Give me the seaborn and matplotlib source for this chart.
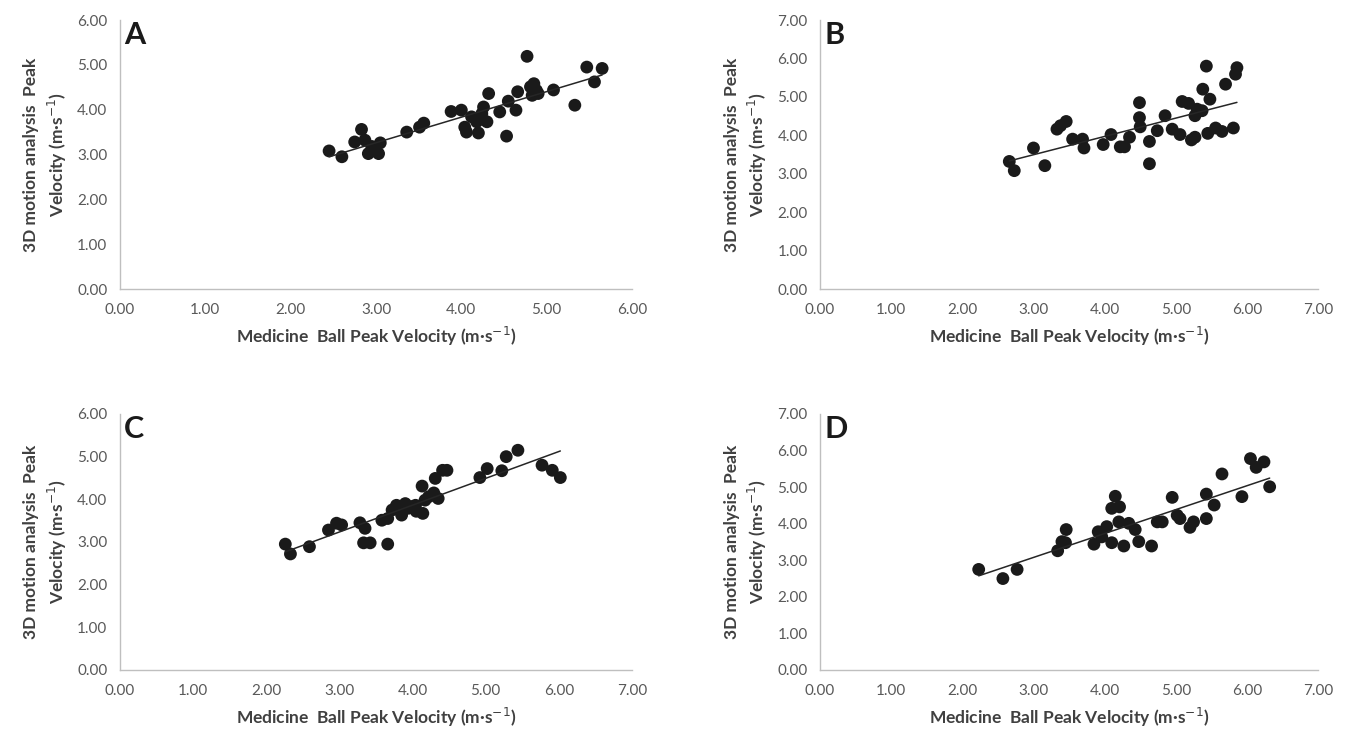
import matplotlib
matplotlib.use('Agg')
import matplotlib.pyplot as plt
from matplotlib.ticker import FormatStrFormatter, MultipleLocator
import numpy as np
import pandas as pd
import seaborn as sns

# panel A
a_x = [2.45, 2.60, 2.83, 2.75, 2.87, 2.91, 3.03, 3.05, 2.95, 3.36, 3.51, 3.56, 3.88,
       4.00, 4.04, 4.06, 4.12, 4.18, 4.20, 4.24, 4.26, 4.30, 4.32, 4.45, 4.53, 4.55,
       4.64, 4.66, 4.77, 4.81, 4.85, 4.88, 4.83, 4.90, 5.08, 5.33, 5.47, 5.56, 5.65]
a_y = [3.08, 2.95, 3.56, 3.28, 3.32, 3.02, 3.02, 3.26, 3.18, 3.50, 3.61, 3.70, 3.96,
       3.99, 3.61, 3.50, 3.84, 3.73, 3.48, 3.91, 4.06, 3.73, 4.36, 3.95, 3.41, 4.19,
       3.99, 4.40, 5.19, 4.51, 4.58, 4.43, 4.32, 4.36, 4.44, 4.10, 4.95, 4.62, 4.92]

# panel B
b_x = [2.66, 2.73, 3.00, 3.16, 3.33, 3.38, 3.46, 3.55, 3.69, 3.71, 3.98, 4.09, 4.22,
       4.28, 4.35, 4.49, 4.49, 4.50, 4.63, 4.63, 4.74, 4.85, 4.95, 5.06, 5.09, 5.18,
       5.22, 5.27, 5.27, 5.30, 5.37, 5.38, 5.43, 5.45, 5.48, 5.56, 5.65, 5.70, 5.81,
       5.84, 5.86]
b_y = [3.32, 3.08, 3.67, 3.21, 4.16, 4.25, 4.36, 3.90, 3.90, 3.67, 3.76, 4.02, 3.70,
       3.70, 3.95, 4.85, 4.46, 4.22, 3.84, 3.26, 4.12, 4.51, 4.16, 4.02, 4.88, 4.83,
       3.88, 3.95, 4.51, 4.68, 4.64, 5.20, 5.80, 4.05, 4.94, 4.19, 4.10, 5.33, 4.19,
       5.59, 5.76]

# panel C
c_x = [2.26, 2.33, 2.59, 2.85, 2.96, 3.03, 3.28, 3.35, 3.33, 3.42, 3.58, 3.66, 3.66,
       3.78, 3.85, 3.90, 3.94, 3.99, 4.04, 4.13, 4.14, 4.17, 4.22, 4.29, 4.31, 4.35,
       4.41, 4.47, 4.92, 5.02, 5.22, 5.28, 5.44, 5.77, 5.91, 6.02, 3.72, 4.05]
c_y = [2.95, 2.72, 2.89, 3.28, 3.44, 3.40, 3.45, 3.32, 2.98, 2.98, 3.51, 3.55, 2.95,
       3.86, 3.63, 3.90, 3.79, 3.83, 3.86, 4.31, 3.67, 3.98, 4.06, 4.15, 4.49, 4.02,
       4.68, 4.68, 4.51, 4.72, 4.67, 5.00, 5.15, 4.80, 4.68, 4.51, 3.75, 3.72]

# panel D
d_x = [2.23, 2.57, 2.77, 3.34, 3.40, 3.46, 3.45, 3.85, 3.91, 3.96, 4.03, 4.10, 4.10,
       4.15, 4.21, 4.20, 4.27, 4.34, 4.43, 4.48, 4.66, 4.74, 4.81, 4.95, 5.02, 5.06,
       5.20, 5.25, 5.43, 5.43, 5.54, 5.65, 5.93, 6.05, 6.13, 6.24, 6.32]
d_y = [2.75, 2.50, 2.75, 3.26, 3.51, 3.84, 3.48, 3.44, 3.78, 3.64, 3.92, 3.48, 4.42,
       4.75, 4.46, 4.05, 3.39, 4.01, 3.84, 3.51, 3.39, 4.05, 4.05, 4.72, 4.23, 4.14,
       3.90, 4.05, 4.81, 4.14, 4.51, 5.36, 4.74, 5.78, 5.54, 5.69, 5.01]

panels = [
    ('A', a_x, a_y, 6, 6, [0.0891, 0.6131, 0.3801, 0.3601]),
    ('B', b_x, b_y, 7, 7, [0.6088, 0.6131, 0.3697, 0.3601]),
    ('C', c_x, c_y, 7, 6, [0.0891, 0.1031, 0.3801, 0.3427]),
    ('D', d_x, d_y, 7, 7, [0.6088, 0.1031, 0.3697, 0.3427]),
]

sns.set_style('white')
plt.rcParams['font.family'] = ['Lato', 'DejaVu Sans']

fig = plt.figure(figsize=(13.47, 7.47), dpi=100)

for letter, xs, ys, xmax, ymax, rect in panels:
    ax = fig.add_axes(rect)
    df = pd.DataFrame({'mb': xs, 'motion': ys})
    sns.regplot(data=df, x='mb', y='motion', ax=ax, ci=None, truncate=True,
                scatter_kws={'s': 85, 'color': '#1a1a1a', 'edgecolor': 'none', 'alpha': 1},
                line_kws={'color': '#262626', 'lw': 1.1})
    ax.set_xlim(0, xmax)
    ax.set_ylim(0, ymax)
    ax.xaxis.set_major_locator(MultipleLocator(1))
    ax.yaxis.set_major_locator(MultipleLocator(1))
    ax.xaxis.set_major_formatter(FormatStrFormatter('%.2f'))
    ax.yaxis.set_major_formatter(FormatStrFormatter('%.2f'))
    ax.tick_params(length=0, labelsize=11, labelcolor='#595959')
    ax.tick_params(axis='x', pad=10)
    ax.tick_params(axis='y', pad=9)
    for s in ['top', 'right']:
        ax.spines[s].set_visible(False)
    for s in ['left', 'bottom']:
        ax.spines[s].set_color('#bfbfbf')
        ax.spines[s].set_linewidth(1)
    ax.set_xlabel('Medicine  Ball Peak Velocity (m·s$^{-1}$)', fontsize=12.5,
                  fontweight='bold', color='#404040', labelpad=6)
    ax.set_ylabel('3D motion analysis  Peak\nVelocity (m·s$^{-1}$)', fontsize=12.5,
                  fontweight='bold', color='#404040', labelpad=6, linespacing=1.35)
    ax.text(0.008, 0.995, letter, transform=ax.transAxes, fontsize=22,
            fontweight='bold', color='#1a1a1a', va='top', ha='left')

fig.savefig('out.png', dpi=100)
plt.close(fig)
